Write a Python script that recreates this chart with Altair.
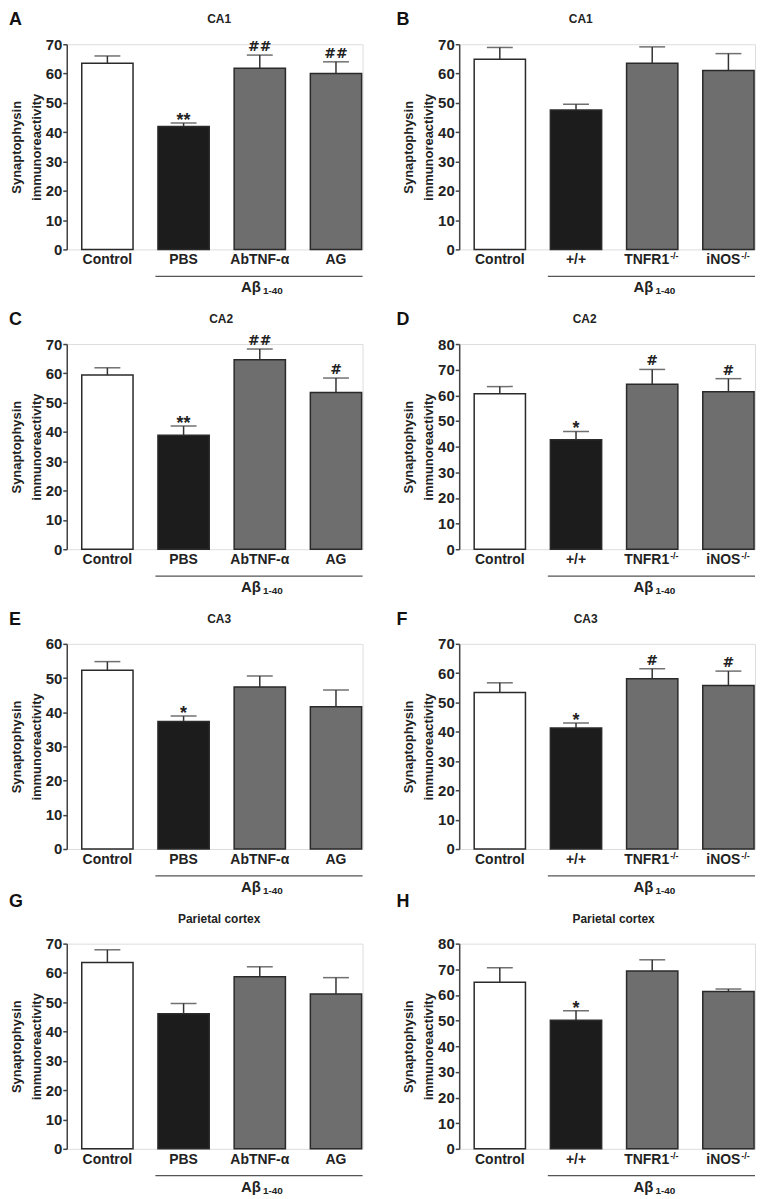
import altair as alt
import pandas as pd

FONT = "Liberation Sans"
W, H = 297, 206

# ---------------- data ----------------
cats_left = ["Control", "PBS", "AbTNF-α", "AG"]
sups_left = ["", "", "", ""]
cats_right = ["Control", "+/+", "TNFR1", "iNOS"]
sups_right = ["", "", "-/-", "-/-"]
fills = ["#ffffff", "#1c1c1c", "#6e6e6e", "#6e6e6e"]

letters = ["A", "B", "C", "D", "E", "F", "G", "H"]
titles = ["CA1", "CA1", "CA2", "CA2", "CA3", "CA3", "Parietal cortex", "Parietal cortex"]
ymaxes = [70, 70, 70, 80, 60, 70, 70, 80]

means_A = [63.5, 41.9, 61.8, 60.0]
errs_A = [66.0, 43.1, 66.3, 64.0]
marks_A = ["", "**", "##", "##"]

means_B = [64.9, 47.6, 63.5, 61.0]
errs_B = [68.9, 49.5, 69.1, 66.8]
marks_B = ["", "", "", ""]

means_C = [59.4, 38.9, 64.6, 53.5]
errs_C = [61.9, 42.0, 68.3, 58.4]
marks_C = ["", "**", "##", "#"]

means_D = [60.6, 42.7, 64.3, 61.4]
errs_D = [63.4, 45.9, 70.1, 66.5]
marks_D = ["", "*", "#", "#"]

means_E = [52.3, 37.3, 47.4, 41.6]
errs_E = [54.8, 38.9, 50.6, 46.5]
marks_E = ["", "*", "", ""]

means_F = [53.4, 41.3, 58.1, 55.8]
errs_F = [56.7, 43.0, 61.5, 60.7]
marks_F = ["", "*", "#", "#"]

means_G = [63.6, 46.1, 58.7, 52.8]
errs_G = [67.9, 49.6, 62.1, 58.4]
marks_G = ["", "", "", ""]

means_H = [64.9, 50.1, 69.3, 61.3]
errs_H = [70.6, 53.8, 73.7, 62.3]
marks_H = ["", "*", "", ""]

y_title = ["Synaptophysin", "immunoreactivity"]
group_main = "Aβ"
group_sub = "1-40"

# ---------------- styling (layout only) ----------------
title_x = [153, 122, 155, 126, 153, 127, 153, 155]
letter_x = [-58, -63, -58, -63, -58, -63, -58, -63]
letter_y = [-33, -33, -33, -33, -33, -33, -51, -51]
sup_dx = {"TNFR1": 17, "iNOS": 12}


def panel(i, cats, sups, means, errs, marks):
    ymax = ymaxes[i]
    df = pd.DataFrame({"cat": cats, "sup": sups, "mean": means, "err": errs,
                       "mark": marks, "fill": fills})
    one = pd.DataFrame({"letter": [letters[i]], "title": [titles[i]],
                        "gm": [group_main], "gs": [group_sub]})
    base = alt.Chart(df)
    xenc = alt.X("cat:N", sort=cats, axis=None,
                 scale=alt.Scale(domain=cats, paddingInner=0.327,
                                 paddingOuter=0.1046, align=0.94))
    yscale = alt.Scale(domain=[0, ymax], nice=False, zero=True)
    yaxis = alt.Axis(values=list(range(0, ymax + 1, 10)), title=y_title,
                     grid=False, tickSize=4, tickWidth=1.5, tickColor="#444",
                     domainColor="#444", domainWidth=1.5, labelPadding=1,
                     labelFontSize=15, labelFontWeight="bold", labelColor="#222",
                     titleFontSize=13, titleFontWeight="bold", titleColor="#222",
                     titleLineHeight=20, titlePadding=2, labelFont=FONT, titleFont=FONT)

    bars = base.mark_bar(stroke="#2a2a2a", strokeWidth=1.5).encode(
        x=xenc,
        y=alt.Y("mean:Q", scale=yscale, axis=yaxis),
        fill=alt.Fill("fill:N", scale=None),
    )
    ebar = base.mark_rule(color="#333", strokeWidth=1.5).encode(
        x=xenc, y=alt.Y("mean:Q", scale=yscale, axis=yaxis), y2="err:Q")
    ecap = base.mark_tick(color="#333", thickness=1.5, size=26).encode(
        x=xenc, y=alt.Y("err:Q", scale=yscale, axis=yaxis))
    hashes = base.transform_filter("indexof(datum.mark, '#') >= 0").mark_text(
        font="DejaVu Sans", fontSize=14, fontWeight="bold", baseline="alphabetic",
        align="center", dy=-4, color="#222").encode(
        x=xenc, y=alt.Y("err:Q", scale=yscale, axis=yaxis), text="mark:N")
    stars = base.transform_filter("indexof(datum.mark, '*') >= 0").mark_text(
        font=FONT, fontSize=18, fontWeight="bold", baseline="alphabetic",
        align="center", dy=3, color="#222").encode(
        x=xenc, y=alt.Y("err:Q", scale=yscale, axis=yaxis), text="mark:N")

    layers = [bars, ebar, ecap, hashes, stars]

    plain = base.transform_filter("datum.sup == ''").mark_text(
        font=FONT, fontSize=14, fontWeight="bold", baseline="alphabetic",
        align="center", color="#222").encode(
        x=xenc, y=alt.value(H + 15), text="cat:N")
    layers.append(plain)
    for c, s in zip(cats, sups):
        if s:
            d = sup_dx.get(c, 14)
            sel = base.transform_filter(alt.datum.cat == c)
            layers.append(sel.mark_text(
                font=FONT, fontSize=14, fontWeight="bold", baseline="alphabetic",
                align="right", dx=d, color="#222").encode(
                x=xenc, y=alt.value(H + 15), text="cat:N"))
            layers.append(sel.mark_text(
                font=FONT, fontSize=9, fontWeight="bold", baseline="alphabetic",
                align="left", dx=d + 1, color="#222").encode(
                x=xenc, y=alt.value(H + 10), text="sup:N"))

    ob = alt.Chart(one)
    gline = ob.mark_rule(color="#555", strokeWidth=1.3).encode(
        x=alt.value(89), x2=alt.value(297), y=alt.value(H + 27))
    gmain = ob.mark_text(font=FONT, fontSize=15, fontWeight="bold",
                         baseline="alphabetic", align="right", color="#222").encode(
        x=alt.value(195), y=alt.value(H + 43), text="gm:N")
    gsub = ob.mark_text(font=FONT, fontSize=10, fontWeight="bold",
                        baseline="alphabetic", align="left", color="#222").encode(
        x=alt.value(197), y=alt.value(H + 45), text="gs:N")
    ttl = ob.mark_text(font=FONT, fontSize=12, fontWeight="bold",
                       baseline="alphabetic", align="center", color="#222").encode(
        x=alt.value(title_x[i]), y=alt.value(-21), text="title:N")
    let = ob.mark_text(font=FONT, fontSize=18, fontWeight="bold",
                       baseline="top", align="left", color="#111").encode(
        x=alt.value(letter_x[i]), y=alt.value(letter_y[i]), text="letter:N")
    layers += [gline, gmain, gsub, ttl, let]

    return alt.layer(*layers).properties(width=W, height=H)


panels = [
    panel(0, cats_left, sups_left, means_A, errs_A, marks_A),
    panel(1, cats_right, sups_right, means_B, errs_B, marks_B),
    panel(2, cats_left, sups_left, means_C, errs_C, marks_C),
    panel(3, cats_right, sups_right, means_D, errs_D, marks_D),
    panel(4, cats_left, sups_left, means_E, errs_E, marks_E),
    panel(5, cats_right, sups_right, means_F, errs_F, marks_F),
    panel(6, cats_left, sups_left, means_G, errs_G, marks_G),
    panel(7, cats_right, sups_right, means_H, errs_H, marks_H),
]

chart = alt.concat(*panels, columns=2, spacing={"row": 95, "column": 97},
                   bounds="flush").properties(padding=0).configure_view(
    stroke=None).configure(font=FONT, background="white")

chart.save("out.html", embed_options={"renderer": "svg", "actions": False})
